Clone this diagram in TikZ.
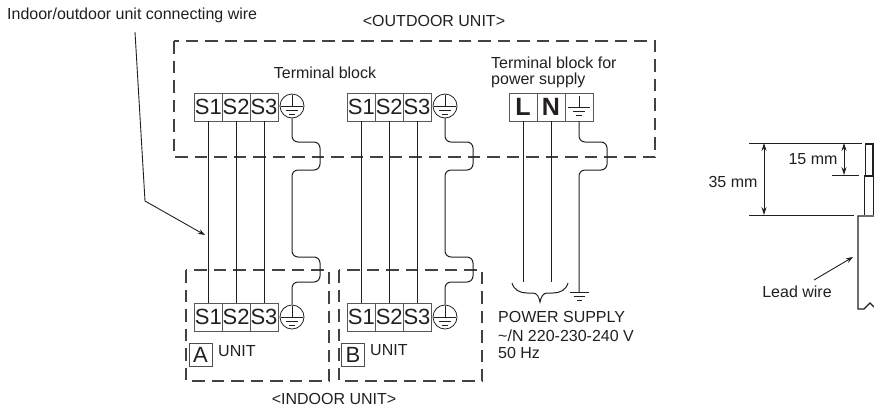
\documentclass[tikz,border=0pt]{standalone}
\usepackage{fontspec}
\setmainfont{Liberation Sans}
\usetikzlibrary{arrows.meta}
\definecolor{inkc}{HTML}{231F20}
\tikzset{%
	every node/.style={text=inkc},
	lbl/.style={inner sep=0pt, font=\fontsize{16}{18}\selectfont},
	wire/.style={draw=inkc, line width=1pt},
	dashbox/.style={draw=inkc!85, line width=1.2pt, dash pattern=on 12.5pt off 7pt},
	gndlines/.style={
		path picture={
			\draw[inkc, line width=0.8pt] (path picture bounding box.center) ++(0,-11) -- ++(0,11)
				++(-11,0) -- ++(22,0) ++(-17,4) -- ++(12,0) ++(-9,4) -- ++(6,0);
		}
	},
	cell/.style={
		draw=inkc!75, line width=0.8pt,
		minimum width=27.8pt, minimum height=28pt, inner sep=0pt,
		font=\fontsize{22}{22}\selectfont
	},
	bigcell/.style={cell, font=\fontsize{25}{25}\selectfont\bfseries},
	gndcell/.style={cell, gndlines},
	gndring/.style={circle, draw=inkc, line width=0.8pt, minimum size=24pt, inner sep=0pt, gndlines},
	letterbox/.style={draw=inkc!80, line width=0.8pt, minimum width=23pt, minimum height=22.5pt,
		inner sep=0pt, font=\fontsize{22}{22}\selectfont},
	dimline/.style={draw=inkc, line width=0.9pt},
	leader/.style={draw=inkc, line width=0.9pt, -{Stealth[length=7pt,width=5pt]}},
	dimarrow/.style={draw=inkc, line width=0.8pt, {Stealth[length=8pt,width=5pt]}-{Stealth[length=8pt,width=5pt]}},
}
\begin{document}
\begin{tikzpicture}[x=1pt, y=-1pt]
	\useasboundingbox (0,0) rectangle (874,408);

	% Outdoor and indoor boxes
	\draw[dashbox] (174,41) rectangle (655,157);
	\draw[dashbox] (186,270) rectangle (329,381);
	\draw[dashbox] (339,270) rectangle (482,381);

	% Titles
	\node[lbl, anchor=west] (wirelbl) at (7,15) {Indoor/outdoor unit connecting wire};
	\node[lbl] (outdoorlbl) at (434,21) {<OUTDOOR UNIT>};
	\node[lbl] (blocklbl) at (325,73) {Terminal block};
	\node[lbl, anchor=west] (powerlbl1) at (491,63) {Terminal block for};
	\node[lbl, anchor=west] (powerlbl2) at (491,80) {power supply};
	\node[lbl] (indoorlbl) at (334,399) {<INDOOR UNIT>};

	% Terminals, outdoor row and indoor row
	\foreach \nm/\xx in {a/194.5, b/347.5} {
		\node[cell] (o\nm1) at (\xx+13.9,107) {S1};
		\node[cell] (o\nm2) at (\xx+41.7,107) {S2};
		\node[cell] (o\nm3) at (\xx+69.5,107) {S3};
		\node[gndring] (o\nm e) at (\xx+97.5,106) {};
		\node[cell] (i\nm1) at (\xx+13.9,317) {S1};
		\node[cell] (i\nm2) at (\xx+41.7,317) {S2};
		\node[cell] (i\nm3) at (\xx+69.5,317) {S3};
		\node[gndring] (i\nm e) at (\xx+97.5,317) {};
		% Wires
		\draw[wire] (o\nm1) -- (i\nm1);
		\draw[wire] (o\nm2) -- (i\nm2);
		\draw[wire] (o\nm3) -- (i\nm3);
		\draw[wire, rounded corners=6pt] (o\nm e.south) -- (o\nm e.south |- 0,142) -- ++(28,0) -- ++(0,28) -- ++(-28,0)
			-- (o\nm e.south |- 0,257) -- ++(28,0) -- ++(0,25) -- ++(-28,0) -- (i\nm e.north);
	}

	% Unit letters
	\node[letterbox] (unita) at (200.5,355) {A};
	\node[lbl, anchor=west] (unitalbl) at (218,351) {UNIT};
	\node[letterbox] (unitb) at (353,355) {B};
	\node[lbl, anchor=west] (unitblbl) at (370,350) {UNIT};

	% Power supply block
	\node[bigcell] (pl) at (523,107) {L};
	\node[bigcell] (pn) at (551,107) {N};
	\node[gndcell] (pe) at (579,107) {};
	\coordinate (plend) at (523.7,282);
	\coordinate (pnend) at (551,282);
	\coordinate (gndp) at (579,292);
	\draw[wire] (pl.south -| plend) -- (plend);
	\draw[wire] (pn) -- (pnend);
	\draw[wire, rounded corners=6pt] (pe.south) -- (pe.south |- 0,142) -- ++(28,0) -- ++(0,28) -- ++(-28,0) -- (gndp);
	\draw[wire] (gndp) ++(-9.5,0) -- ++(19,0) ++(-15,4) -- ++(11,0) ++(-8,4) -- ++(5,0);

	% Brace under the supply wires
	\coordinate (bracel) at (512,283);
	\coordinate (bracer) at (568,283);
	\coordinate (bracetip) at (540,302);
	\draw[wire] (bracel) .. controls (514,290) and (520,293) .. (527,293) -- (533,293)
		.. controls (537,293) and (539,297) .. (bracetip) .. controls (541,297) and (543,293) .. (547,293) -- (553,293)
		.. controls (560,293) and (566,290) .. (bracer);

	\node[lbl, anchor=west] (supply1) at (498,317) {POWER SUPPLY};
	\node[lbl, anchor=west] (supply2) at (498,336) {\textasciitilde/N 220-230-240 V};
	\node[lbl, anchor=west] (supply3) at (498,353) {50 Hz};

	% Leader to the connecting wire
	\coordinate (leadera) at (135,32);
	\coordinate (leaderb) at (145,201);
	\coordinate (leaderc) at (205,235);
	\draw[leader] (leadera) -- (leaderb) -- (leaderc);

	% Wire end with its dimensions
	\coordinate (dtopl) at (749,143);
	\coordinate (dtopr) at (862,143);
	\coordinate (dmidl) at (832,175);
	\coordinate (dmidr) at (859,175);
	\coordinate (dlowl) at (749,215);
	\coordinate (dlowr) at (854,215);
	\draw[dimline] (dtopl) -- (dtopr);
	\draw[dimline] (dmidl) -- (dmidr);
	\draw[dimline] (dlowl) -- (dlowr);
	\coordinate (d35a) at (764,143);
	\coordinate (d35b) at (764,215);
	\coordinate (d15a) at (844,143);
	\coordinate (d15b) at (844,175);
	\draw[dimarrow] (d35a) -- (d35b);
	\draw[dimarrow] (d15a) -- (d15b);
	\node[lbl] (d35lbl) at (733,182) {35 mm};
	\node[lbl] (d15lbl) at (813,159) {15 mm};

	\draw[wire, line width=1.3pt] (865.5,175) -- (865.5,144) -- (873,144) -- (873,175);
	\draw[wire, line width=1.3pt] (873.4,215) -- (873.4,176) -- (864.5,176) -- (864.5,215);
	\draw[wire, line width=1.3pt] (874,216) -- (858,216) -- (858,309) -- (864,309) -- (870,303) -- (874,307);

	\node[lbl] (leadlbl) at (797,292) {Lead wire};
	\coordinate (leadtip) at (853,257);
	\draw[leader] (814,280) -- (leadtip);
\end{tikzpicture}
\end{document}
